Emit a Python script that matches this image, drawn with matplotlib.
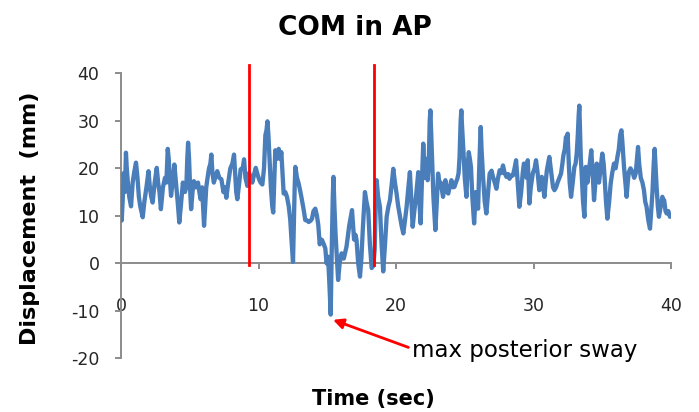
import matplotlib
matplotlib.use("Agg")
import matplotlib.pyplot as plt

# ---- data ----
time_s = [
    0.0, 0.05, 0.12, 0.2, 0.28, 0.36, 0.42, 0.5, 0.6, 0.73, 0.85, 0.95, 1.09, 1.2, 1.3, 1.4, 1.58, 1.7, 1.85, 2.0,
    2.1, 2.2, 2.3, 2.45, 2.6, 2.7, 2.8, 2.9, 3.05, 3.2, 3.3, 3.4, 3.47, 3.55, 3.64, 3.75, 3.88, 4.0, 4.12, 4.24,
    4.35, 4.5, 4.65, 4.75, 4.82, 4.88, 4.95, 5.05, 5.1, 5.2,
    5.3, 5.45, 5.6, 5.7, 5.79, 5.9, 5.97, 6.04, 6.12, 6.2, 6.28, 6.4, 6.5, 6.57, 6.65, 6.75, 6.85, 7.0, 7.15, 7.3,
    7.45, 7.55, 7.66, 7.8, 7.95, 8.1, 8.22, 8.3, 8.38, 8.46, 8.6, 8.7, 8.85, 8.95, 9.05, 9.19, 9.31, 9.45, 9.55, 9.7,
    9.8, 9.9, 10.04, 10.15, 10.28,
    10.4, 10.5, 10.58, 10.65, 10.72, 10.8, 10.9, 11.0, 11.07, 11.15, 11.22, 11.35, 11.47, 11.58, 11.66, 11.75, 11.83,
    11.95, 12.07, 12.2, 12.31, 12.42, 12.51, 12.57, 12.63, 12.68, 12.8, 12.92, 13.05, 13.16, 13.3, 13.4, 13.55,
    13.65, 13.8, 13.89, 14.0, 14.13, 14.25, 14.35, 14.45, 14.55, 14.62, 14.75, 14.86, 14.95, 15.06, 15.15, 15.25,
    15.32, 15.4, 15.45, 15.52, 15.6, 15.7, 15.79, 15.9, 16.04, 16.2, 16.4, 16.6, 16.8, 16.9, 16.95, 17.05, 17.13,
    17.25, 17.38, 17.48, 17.6, 17.74, 17.85, 17.98, 18.1, 18.23, 18.35, 18.45, 18.52, 18.59, 18.7, 18.83, 18.95,
    19.07, 19.2, 19.32, 19.45, 19.56, 19.7, 19.8, 19.92, 20.04, 20.16, 20.29,
    20.4, 20.53, 20.65, 20.77, 20.9, 21.01, 21.1, 21.21, 21.33, 21.45, 21.55, 21.62, 21.7, 21.79, 21.88, 21.98,
    22.1, 22.2, 22.3, 22.38, 22.45, 22.5, 22.55, 22.62, 22.72, 22.86, 22.95, 23.06, 23.15, 23.25, 23.42, 23.5,
    23.59, 23.7, 23.8, 23.9, 24.03, 24.15, 24.25, 24.35, 24.46, 24.55, 24.62, 24.7, 24.75, 24.8, 24.9, 25.0, 25.12,
    25.2, 25.29,
    25.37, 25.45, 25.55, 25.68, 25.8, 25.97, 26.05, 26.12, 26.16, 26.22, 26.33, 26.45, 26.57, 26.7, 26.81, 26.95,
    27.05, 27.18, 27.3, 27.42, 27.54, 27.66, 27.78, 27.9, 28.03, 28.15, 28.25, 28.38, 28.5, 28.62, 28.73, 28.85,
    28.97, 29.1, 29.21, 29.3, 29.4, 29.5, 29.58, 29.64, 29.7, 29.8, 29.95, 30.08, 30.18, 30.3,
    30.42, 30.52, 30.6, 30.7, 30.79, 30.88, 30.97, 31.06, 31.15, 31.25, 31.33, 31.42, 31.52, 31.64, 31.76, 31.88,
    32.0, 32.1, 32.17, 32.27, 32.36, 32.42, 32.48, 32.55, 32.63, 32.73, 32.85, 32.97, 33.06, 33.14, 33.22, 33.28,
    33.33, 33.38, 33.44, 33.5, 33.6, 33.7, 33.75, 33.8, 33.92, 34.05, 34.2, 34.3, 34.4, 34.5, 34.6, 34.68, 34.76,
    34.88, 35.0, 35.1, 35.17, 35.27,
    35.37, 35.5, 35.61, 35.72, 35.85, 35.97, 36.1, 36.2, 36.3, 36.39, 36.45, 36.58, 36.68, 36.77, 36.85, 36.93,
    37.05, 37.2, 37.32, 37.43, 37.52, 37.6, 37.68, 37.8, 37.92, 38.03, 38.12, 38.22, 38.35, 38.47, 38.56, 38.65,
    38.74, 38.81, 38.88, 38.95, 39.04, 39.12, 39.25, 39.37, 39.45, 39.5, 39.6, 39.68, 39.8, 39.92, 40.0,
]
displacement_mm = [
    15, 9, 13, 19, 15, 23.3, 20, 17, 14, 12, 17, 19, 21.2, 18, 14, 12, 9.7, 13, 16, 19.4,
    16, 14, 12.8, 17, 20.1, 17, 15, 11.4, 16, 18, 17, 24.1, 22, 18, 14.2, 17, 20.8, 17, 13, 8.6,
    12, 17, 15, 16, 22, 25.4, 22, 14, 11.4, 15,
    17.3, 16, 17, 15, 13.5, 16, 12, 7.9, 12, 16, 17.7, 20, 21, 22.9, 19, 17, 18, 19.4, 18, 17.7,
    15, 16, 13.8, 17, 20, 21, 22.9, 19, 15, 13.5, 17, 19.8, 20, 21.9, 18, 16.3, 19, 18, 17, 19,
    20.1, 19, 17.7, 17, 16.6,
    20, 27, 28, 29.9, 27, 22, 16, 12, 10.7, 18, 23.8, 22, 24.1, 22, 23.4, 19, 14.7,
    15, 14, 12, 9.1, 4, 0.3, 8, 16, 20.3, 18, 16.8, 15, 13.3, 11, 9.1, 9,
    8.7, 9, 9.4, 11, 11.5, 10, 8, 4, 5, 4.9, 4, 3.1, 0, 1.4, -4, -10.8,
    2, 14, 18.2, 12, 6.3, 1, -3.5, 0, 2.1, 1, 3.5, 8, 11.2, 7, 5, 6, 4.9,
    0, -2.8, 1, 8, 15, 13, 11.2, 4, -1, -0.5, 3, 12, 17.5, 14, 11.9, 4,
    -1.7, 4, 9.8, 12, 13.3, 17, 19.9, 17, 14.7, 12, 9.8,
    8, 6.3, 9, 11.9, 16, 19.2, 14, 7.7, 11, 14, 17, 19.2, 13, 8.4, 17, 25.2,
    18, 22, 17.5, 21, 30, 32.2, 28, 22.4, 14, 7, 12, 18.9, 17, 17, 14, 16,
    17.5, 15, 14.7, 16, 17.5, 16, 16.1, 17, 17.8, 19, 22.4, 30, 32.2, 29, 23.8, 18, 14,
    20, 23.4,
    22, 20.3, 14, 8.4, 15, 11.5, 20, 26, 28.7, 24, 18.2, 13, 10.5, 15, 18.9, 19.5,
    18.2, 17, 15.7, 18, 19.6, 19, 20.6, 19, 18.2, 18.8, 17.8, 18.5, 18.5, 20, 21.7, 17,
    11.9, 15, 18.9, 21, 20, 18, 21.7, 17, 12.6, 16, 19, 20, 21.7, 19,
    15.4, 17, 18.2, 16, 14, 17, 19.6, 21, 22.4, 20, 18, 16, 15.4, 16, 17.1, 18,
    18.9, 21, 22.7, 24, 26.6, 25, 27.3, 22, 17, 14, 17, 20.3, 21, 23.1, 27, 31,
    33.2, 28, 22, 18.9, 13, 9.8, 15, 20.3, 17, 20, 23.8, 19, 13.3, 17, 21, 19, 17,
    20, 23.1, 21, 18, 13,
    9.4, 13, 16.8, 19, 21, 20, 22.4, 24, 27, 28, 26, 20.3, 17, 14, 17, 19.2,
    20, 19.2, 18, 18.9, 22, 24.5, 21, 18, 17, 15.4, 13, 11.9, 9, 7.3, 11, 15,
    21, 24.1, 20, 16.1, 12, 9.8, 12, 14, 13, 13.3, 11, 10.5, 11, 9.8, 10,
]
marker_times = [9.31, 18.42]
marker_range = [-0.4, 41.7]
x_ticks = [0, 10, 20, 30, 40]
y_ticks = [-20, -10, 0, 10, 20, 30, 40]
arrow_head = (15.42, -11.9)
arrow_tail = (20.9, -17.7)
annot_pos = (21.16, -19.7)

plt.rcParams['font.family'] = ['DejaVu Sans']
plt.rcParams['axes.unicode_minus'] = False

fig = plt.figure(figsize=(6.99, 4.12), dpi=100)
ax = fig.add_axes([0.1731, 0.1303, 0.7869, 0.6917])

ax.plot(time_s, displacement_mm, color='#4A7EBB', lw=3.1, solid_joinstyle='round',
        solid_capstyle='round', zorder=3)
for t in marker_times:
    ax.plot([t, t], marker_range, color='#FF0000', lw=2.0, clip_on=False, zorder=4)

ax.set_xlim(0, 40)
ax.set_ylim(-20, 40)
ax.set_xticks(x_ticks)
ax.set_yticks(y_ticks)

for s in ['top', 'right']:
    ax.spines[s].set_visible(False)
ax.spines['bottom'].set_position(('data', 0))
for s in ['left', 'bottom']:
    ax.spines[s].set_color('#8C8C8C')
    ax.spines[s].set_linewidth(1.4)

ax.tick_params(axis='both', colors='#8C8C8C', length=4.5, width=1.4, labelsize=12.5,
               labelcolor='#262626')
ax.tick_params(axis='x', pad=20)
ax.tick_params(axis='y', pad=11)

fig.text(0.508, 0.915, 'COM in AP', fontsize=19, fontweight='bold', ha='center', va='baseline')
fig.text(0.043, 0.471, 'Displacement  (mm)', rotation=90, fontsize=16, fontweight='bold',
         ha='center', va='center')
fig.text(0.534, 0.017, 'Time (sec)', fontsize=15, fontweight='bold', ha='center', va='baseline')

ax.annotate('', xy=arrow_head, xytext=arrow_tail, annotation_clip=False,
            arrowprops=dict(arrowstyle='-|>', color='#FF0000', lw=2.0, mutation_scale=15,
                            shrinkA=0, shrinkB=0))
ax.text(annot_pos[0], annot_pos[1], 'max posterior sway', fontsize=16.5, ha='left', va='baseline',
        clip_on=False)

fig.savefig('out.png', dpi=100)
